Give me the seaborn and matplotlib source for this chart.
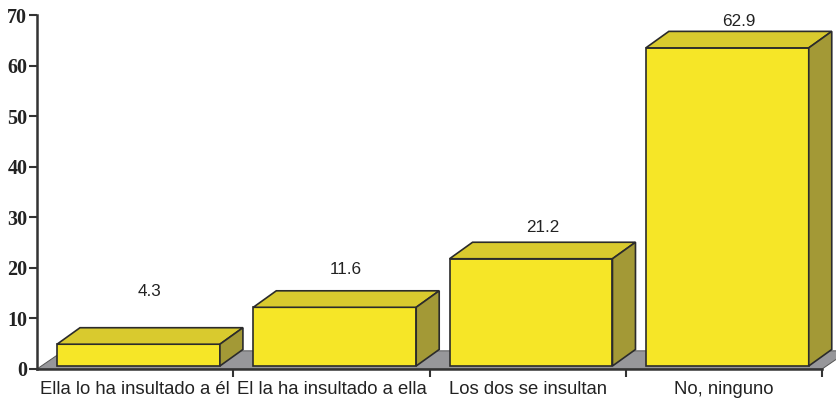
import matplotlib
matplotlib.use("Agg")
import matplotlib.pyplot as plt
from matplotlib.patches import Polygon
import seaborn as sns
import pandas as pd

categories = ["Ella lo ha insultado a él", "El la ha insultado a ella",
              "Los dos se insultan", "No, ninguno"]
values = [4.3, 11.6, 21.2, 62.9]
value_labels = ["4.3", "11.6", "21.2", "62.9"]
label_lift = [11.0, 8.0, 6.8, 5.8]
y_ticks = [0, 10, 20, 30, 40, 50, 60, 70]

FRONT = "#F6E627"
TOP = "#D9CA2E"
SIDE = "#A39936"
FLOOR = "#97979A"
EDGE = "#2b2b2b"

sns.set_style("white")
plt.rcParams["font.family"] = ["Liberation Sans", "DejaVu Sans"]

fig = plt.figure(figsize=(8.37, 3.99), dpi=100)
ax = fig.add_axes([0.0442, 0.0752, 0.9380, 0.8872])

df = pd.DataFrame({"cat": categories, "val": values})
sns.barplot(data=df, x="cat", y="val", ax=ax, color=FRONT, saturation=1,
            width=0.83, edgecolor=EDGE, linewidth=1.2, zorder=3)

ax.set_xlim(-0.5, 3.5)
ax.set_ylim(0, 70)

# depth of the pseudo-3D extrusion, in data units (23 px right, 16 px up)
ddx = 23 / (0.9380 * 837) * 4
ddy = 16.5 / (0.8872 * 399) * 70
base = 0.6

# grey floor under the bars
floor = Polygon([(-0.5, 0), (3.5, 0), (3.5 + ddx * 1.15, ddy * 1.1),
                 (-0.5 + ddx * 1.15, ddy * 1.1)], closed=True,
                facecolor=FLOOR, edgecolor="#555555", linewidth=0.7,
                zorder=1, clip_on=False)
ax.add_patch(floor)

for i, p in enumerate(ax.patches[:len(values)]):
    p.set_x(p.get_x() + 0.017)
    p.set_y(base)
    x0, w, h = p.get_x(), p.get_width(), p.get_height()
    y1 = base + h
    top = Polygon([(x0, y1), (x0 + ddx, y1 + ddy), (x0 + w + ddx, y1 + ddy),
                   (x0 + w, y1)], closed=True, facecolor=TOP,
                  edgecolor=EDGE, linewidth=1.2, zorder=3, clip_on=False)
    side = Polygon([(x0 + w, base), (x0 + w + ddx, base + ddy),
                    (x0 + w + ddx, y1 + ddy), (x0 + w, y1)], closed=True,
                   facecolor=SIDE, edgecolor=EDGE, linewidth=1.2, zorder=3,
                   clip_on=False)
    ax.add_patch(top)
    ax.add_patch(side)
    ax.text(x0 + w / 2 + ddx / 2, values[i] + label_lift[i], value_labels[i],
            ha="center", va="center", fontsize=12.3, color="#222222",
            zorder=5, clip_on=False)

ax.set_xlabel("")
ax.set_ylabel("")
sns.despine(ax=ax, top=True, right=True)
for s in ["left", "bottom"]:
    ax.spines[s].set_color("#333333")
    ax.spines[s].set_linewidth(1.8)
ax.spines["bottom"].set_zorder(2)

ax.set_yticks(y_ticks)
ax.set_yticklabels([str(t) for t in y_ticks], fontfamily="Liberation Serif",
                   fontweight="bold", fontsize=14.5, color="#222222")
ax.tick_params(axis="y", which="major", direction="out", length=6,
               width=1.5, color="#333333", pad=1, left=True)

ax.set_xticks(range(len(categories)))
ax.set_xticklabels(categories, fontsize=13.3, color="#222222")
ax.set_xticks([0.5, 1.5, 2.5, 3.5], minor=True)
ax.tick_params(axis="x", which="major", length=0, pad=9)
ax.tick_params(axis="x", which="minor", direction="out", length=6,
               width=1.5, color="#333333", bottom=True)
ax.grid(False)

fig.savefig("out.png", dpi=100)
